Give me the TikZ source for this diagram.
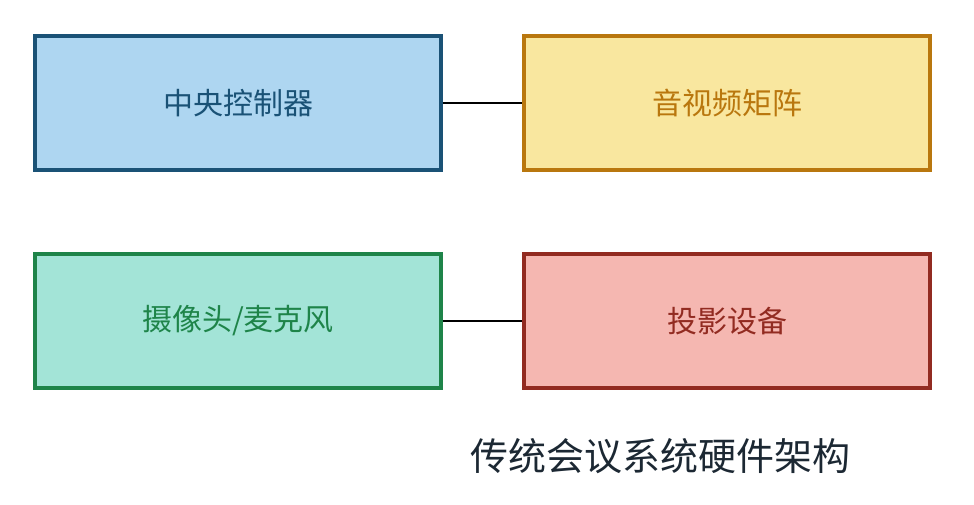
\documentclass[tikz,border=0pt]{standalone}
\usepackage{fontspec}
\setmainfont{Noto Sans CJK SC}
\usetikzlibrary{positioning}
\definecolor{ctrlfill}{HTML}{AED6F1}\definecolor{ctrldraw}{HTML}{1A5276}
\definecolor{avfill}{HTML}{F9E79F}\definecolor{avdraw}{HTML}{B9770E}
\definecolor{camfill}{HTML}{A3E4D7}\definecolor{camdraw}{HTML}{1E8449}
\definecolor{projfill}{HTML}{F5B7B1}\definecolor{projdraw}{HTML}{922B21}
\definecolor{titlecol}{HTML}{1C2833}
\begin{document}
\begin{tikzpicture}
		[x=1pt,y=-1pt,
		%Styles
		device/.style={draw=#1draw,fill=#1fill,text=#1draw,line width=3.5pt,
			minimum width=406pt,minimum height=134pt,font=\fontsize{30}{36}\selectfont},
		link/.style={line width=2pt}
		]
		
		\useasboundingbox (0,0) rectangle (974,505);
		
		%The boxes
		\node[device=ctrl] (ctrl) at (238,103) {中央控制器};
		\node[device=av] (matrix) at (727,103) {音视频矩阵};
		\node[device=cam] (cam) at (238,321) {摄像头/麦克风};
		\node[device=proj] (proj) at (727,321) {投影设备};
		
		%Links
		\draw[link] (ctrl) -- (matrix);
		\draw[link] (cam) -- (proj);
		
		\node[text=titlecol,font=\fontsize{38}{44}\selectfont] (title) at (660,456) {传统会议系统硬件架构};
	\end{tikzpicture}
\end{document}
